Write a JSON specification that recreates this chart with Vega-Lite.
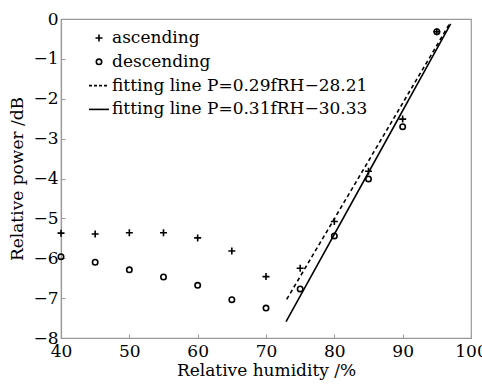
{
  "$schema": "https://vega.github.io/schema/vega-lite/v6.json",
  "width": 410,
  "height": 319,
  "autosize": "none",
  "padding": {"left": 61, "top": 19, "right": 11, "bottom": 52},
  "background": "white",
  "config": {
    "font": "DejaVu Serif",
    "view": {"stroke": "#999999", "strokeWidth": 1.2},
    "axis": {
      "grid": false,
      "domainColor": "#999999",
      "domainWidth": 1.2,
      "tickColor": "#999999",
      "tickSize": -4,
      "labelFlush": false,
      "labelOverlap": false,
      "labelFont": "DejaVu Serif",
      "labelFontSize": 17,
      "labelColor": "black",
      "titleFont": "DejaVu Serif",
      "titleFontSize": 17,
      "titleFontWeight": "normal",
      "titleColor": "black"
    },
    "legend": {
      "labelFont": "DejaVu Serif",
      "labelFontSize": 17,
      "labelColor": "black"
    }
  },
  "datasets": {
    "points": [
      {"humidity": 40, "power": -5.37, "series": "ascending"},
      {"humidity": 45, "power": -5.39, "series": "ascending"},
      {"humidity": 50, "power": -5.36, "series": "ascending"},
      {"humidity": 55, "power": -5.36, "series": "ascending"},
      {"humidity": 60, "power": -5.49, "series": "ascending"},
      {"humidity": 65, "power": -5.82, "series": "ascending"},
      {"humidity": 70, "power": -6.46, "series": "ascending"},
      {"humidity": 75, "power": -6.25, "series": "ascending"},
      {"humidity": 80, "power": -5.08, "series": "ascending"},
      {"humidity": 85, "power": -3.82, "series": "ascending"},
      {"humidity": 90, "power": -2.51, "series": "ascending"},
      {"humidity": 95, "power": -0.32, "series": "ascending"},
      {"humidity": 40, "power": -5.96, "series": "descending"},
      {"humidity": 45, "power": -6.10, "series": "descending"},
      {"humidity": 50, "power": -6.29, "series": "descending"},
      {"humidity": 55, "power": -6.47, "series": "descending"},
      {"humidity": 60, "power": -6.68, "series": "descending"},
      {"humidity": 65, "power": -7.04, "series": "descending"},
      {"humidity": 70, "power": -7.25, "series": "descending"},
      {"humidity": 75, "power": -6.77, "series": "descending"},
      {"humidity": 80, "power": -5.44, "series": "descending"},
      {"humidity": 85, "power": -4.01, "series": "descending"},
      {"humidity": 90, "power": -2.70, "series": "descending"},
      {"humidity": 95, "power": -0.32, "series": "descending"}
    ],
    "fits": [
      {"humidity": 73.03, "power": -7.03, "fit": "fitting line P=0.29fRH−28.21"},
      {"humidity": 96.8, "power": -0.14, "fit": "fitting line P=0.29fRH−28.21"},
      {"humidity": 72.93, "power": -7.59, "fit": "fitting line P=0.31fRH−30.33"},
      {"humidity": 97.03, "power": -0.12, "fit": "fitting line P=0.31fRH−30.33"}
    ]
  },
  "encoding": {
    "x": {
      "field": "humidity", "type": "quantitative",
      "scale": {"domain": [40, 100]},
      "axis": {"title": "Relative humidity /%", "values": [40, 50, 60, 70, 80, 90, 100], "labelPadding": 9, "titlePadding": 3}
    },
    "y": {
      "field": "power", "type": "quantitative",
      "scale": {"domain": [-8, 0]},
      "axis": {"title": "Relative power /dB", "values": [-8, -7, -6, -5, -4, -3, -2, -1, 0], "tickCount": 9, "labelPadding": 7, "titlePadding": 6}
    }
  },
  "layer": [
    {
      "data": {"name": "fits"},
      "mark": {"type": "line", "color": "black", "strokeWidth": 1.6},
      "encoding": {
        "strokeDash": {
          "field": "fit", "type": "nominal",
          "scale": {"domain": ["fitting line P=0.29fRH−28.21", "fitting line P=0.31fRH−30.33"], "range": [[4, 3], [1, 0]]},
          "legend": null
        }
      }
    },
    {
      "data": {"name": "points"},
      "mark": {"type": "point", "filled": false, "stroke": "black", "strokeWidth": 1.6, "size": 400, "opacity": 1},
      "encoding": {
        "shape": {
          "field": "series", "type": "nominal",
          "scale": {
            "domain": ["ascending", "descending", "fitting line P=0.29fRH−28.21", "fitting line P=0.31fRH−30.33"],
            "range": [
              "M-0.35,0H0.35M0,-0.35V0.35",
              "M0.27,0A0.27,0.27,0,1,1,-0.27,0A0.27,0.27,0,1,1,0.27,0Z",
              "M-1,0H-0.7M-0.5,0H-0.2M0,0H0.3M0.5,0H0.8",
              "M-1,0H1"
            ]
          },
          "legend": {
            "title": null,
            "orient": "none",
            "legendX": 27,
            "legendY": 8,
            "symbolSize": 400,
            "symbolStrokeColor": "black",
            "symbolFillColor": "transparent",
            "symbolStrokeWidth": 1.6,
            "labelOffset": 2,
            "rowPadding": 4.8,
            "labelLimit": 400
          }
        }
      }
    }
  ]
}
